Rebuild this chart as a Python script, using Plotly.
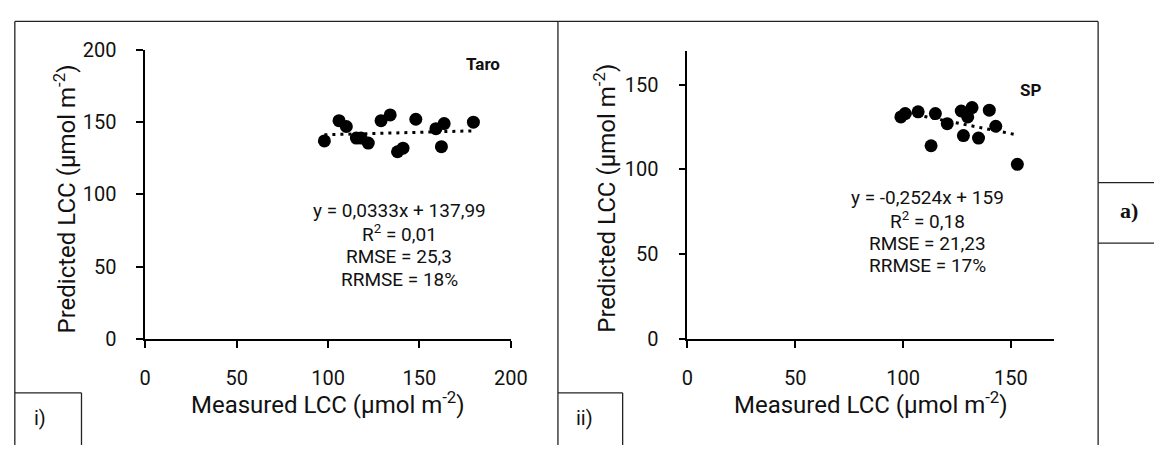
import plotly.graph_objects as go

# Taro: measured vs predicted leaf chlorophyll content
taro_measured = [98, 106, 110, 115.5, 118, 122, 129, 134, 138, 141, 148, 159, 163.5, 162, 179.5]
taro_predicted = [137, 151, 147, 139, 139, 135.5, 151, 155, 129.5, 132, 152, 145.5, 149, 133, 150]

# Sweet potato (SP)
sp_measured = [99, 101, 107, 115, 120.5, 127, 130, 132, 128, 135, 140, 143, 113, 153]
sp_predicted = [131, 133, 134, 133, 127, 134.5, 131, 136.5, 120, 118.5, 135, 125.5, 114, 103]

# Linear fits (slope, intercept) and fit statistics
taro_fit = (0.0333, 137.99)
sp_fit = (-0.2524, 159.0)
taro_stats = ["y = 0,0333x + 137,99", "R<sup>2</sup> = 0,01", "RMSE = 25,3", "RRMSE = 18%"]
sp_stats = ["y = -0,2524x + 159", "R<sup>2</sup> = 0,18", "RMSE = 21,23", "RRMSE = 17%"]

taro_ticks = [0, 50, 100, 150, 200]
sp_ticks = [0, 50, 100, 150]

W, H = 1171, 457
FONT = "Roboto"


def px(x):
    return x / W


def py(y):
    return 1 - y / H


def fit_line(xs, fit):
    lo, hi = min(xs), max(xs)
    return [lo, hi], [fit[0] * lo + fit[1], fit[0] * hi + fit[1]]


fig = go.Figure()

for xs, ys, fit, xa, ya in [
    (taro_measured, taro_predicted, taro_fit, "x", "y"),
    (sp_measured, sp_predicted, sp_fit, "x2", "y2"),
]:
    fx, fy = fit_line(xs, fit)
    fig.add_trace(go.Scatter(x=fx, y=fy, mode="lines", xaxis=xa, yaxis=ya,
                             line=dict(color="black", width=3, dash="3px,5px"),
                             showlegend=False, hoverinfo="skip"))
    fig.add_trace(go.Scatter(x=xs, y=ys, mode="markers", xaxis=xa, yaxis=ya,
                             marker=dict(color="black", size=13), showlegend=False))

axis_common = dict(showline=True, linecolor="black", linewidth=1.5, ticks="outside",
                   ticklen=7, tickwidth=1.5, tickcolor="black", showgrid=False,
                   zeroline=False, tickfont=dict(family=FONT, size=20, color="#111"))

fig.update_layout(
    width=W, height=H, margin=dict(l=0, r=0, t=0, b=0),
    plot_bgcolor="white", paper_bgcolor="white",
    xaxis=dict(domain=[px(142), px(515)], range=[0, 200], tickvals=taro_ticks,
               anchor="y", ticklabelstandoff=13, **axis_common),
    yaxis=dict(domain=[py(345), py(40)], range=[0, 200], tickvals=taro_ticks,
               anchor="x", ticklabelstandoff=16, **axis_common),
    xaxis2=dict(domain=[px(695), px(1069)], range=[0, 170], tickvals=sp_ticks,
                anchor="y2", ticklabelstandoff=13, **axis_common),
    yaxis2=dict(domain=[py(345), py(41)], range=[0, 170], tickvals=sp_ticks,
                anchor="x2", ticklabelstandoff=16, **axis_common),
)

ann = []


def text(x, y, s, size=19, bold=False, angle=0, family=FONT):
    ann.append(dict(x=px(x), y=py(y), xref="paper", yref="paper", text=s,
                    showarrow=False, textangle=angle, xanchor="center", yanchor="middle",
                    font=dict(family=family, size=size, color="#111",
                              weight="bold" if bold else "normal")))


# axis titles
ytitle = "Predicted LCC (µmol m<sup>-2</sup>)"
xtitle = "Measured LCC (µmol m<sup>-2</sup>)"
text(60, 197, ytitle, size=24, angle=-90)
text(328, 413, xtitle, size=24)
text(611, 196, ytitle, size=24, angle=-90)
text(882, 413, xtitle, size=24)

# crop names
text(487, 55, "Taro", size=17, bold=True)
text(1045, 82, "SP", size=17, bold=True)

# fit statistics
for i, s in enumerate(taro_stats):
    text(401, 210 + i * 24, s)
for i, s in enumerate(sp_stats):
    text(940, 196 + i * 24, s)

# panel labels
text(35, 429, "i)", size=20)
text(590, 429, "ii)", size=20)
text(1145, 209, "a)", size=22, bold=True, family="Liberation Serif")
fig.update_layout(annotations=ann)

# frame lines of the figure layout
lines = [
    (9, 10, 1114, 10),
    (9, 10, 9, 457),
    (563, 10, 563, 457),
    (1114, 10, 1114, 457),
    (9, 402, 77, 402), (77, 402, 77, 457),
    (563, 402, 629, 402), (629, 402, 629, 457),
    (1114, 180, 1171, 180), (1114, 244, 1171, 244),
]
for x0, y0, x1, y1 in lines:
    fig.add_shape(type="line", xref="paper", yref="paper",
                  x0=px(x0), y0=py(y0), x1=px(x1), y1=py(y1),
                  line=dict(color="#222", width=1.3))

fig.write_html("out.html")
